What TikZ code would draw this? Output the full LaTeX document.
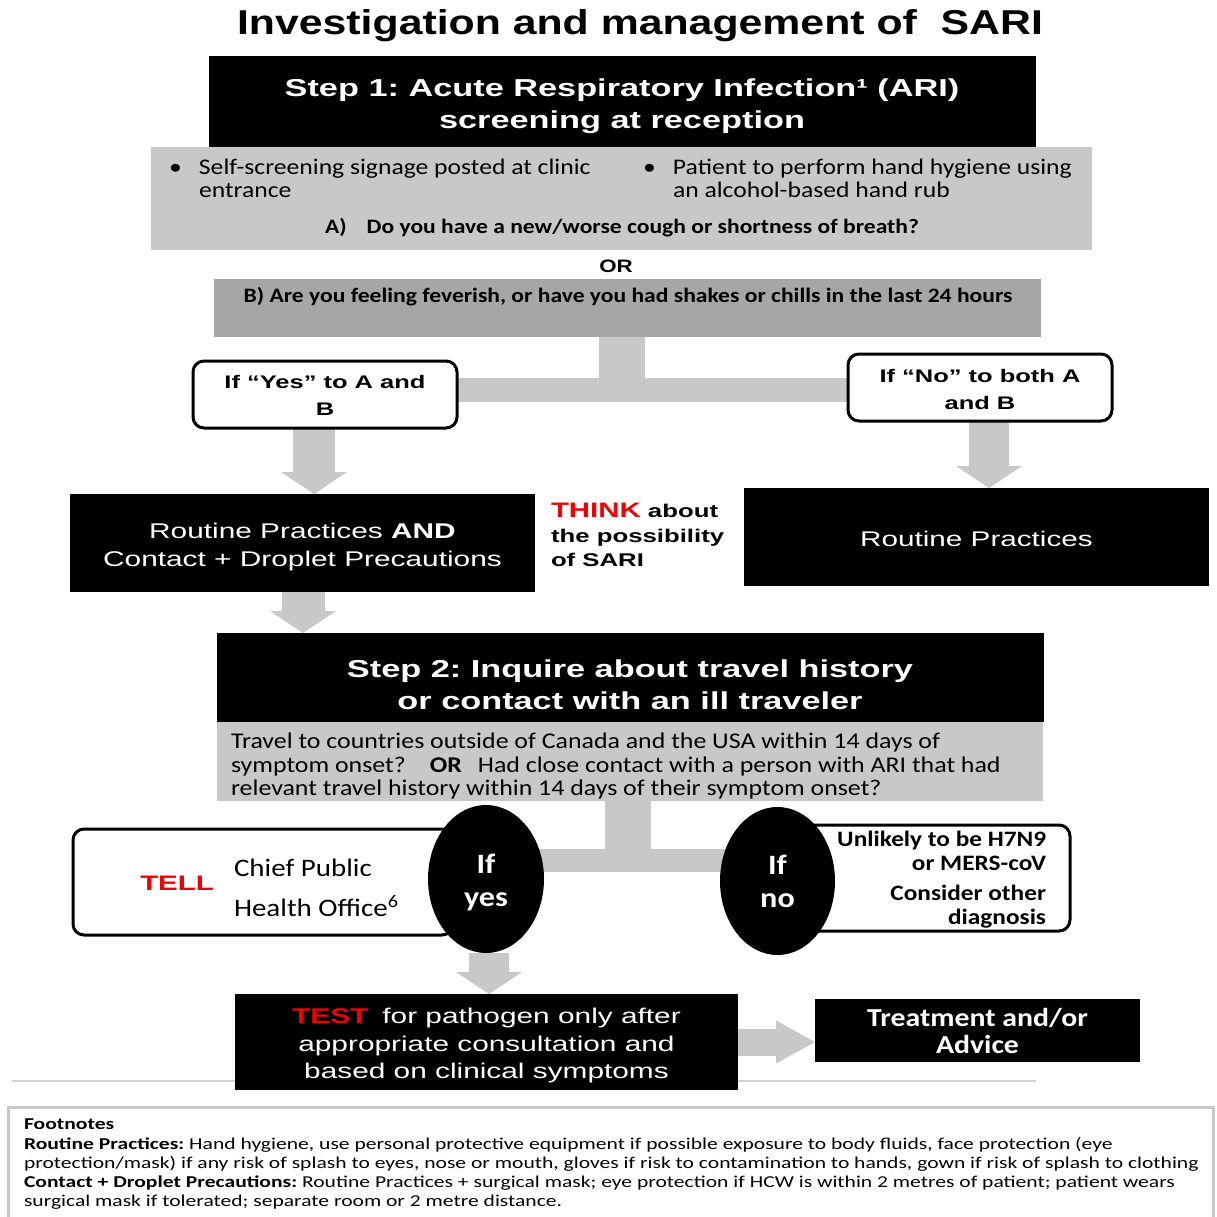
\documentclass[tikz,border=0pt]{standalone}
\usepackage{fontspec}
\setmainfont{Liberation Sans}
\newfontfamily\ar{Liberation Sans}[FakeStretch=1.4]
\newfontfamily\art{Liberation Sans}[FakeStretch=1.24]
\newfontfamily\cb{Carlito}[FakeStretch=1.15]
\newfontfamily\cbf{Carlito}[FakeStretch=1.3]
\usetikzlibrary{arrows.meta,shapes.geometric,backgrounds}
\definecolor{lg}{RGB}{200,200,200}
\definecolor{dg}{RGB}{166,166,166}
\definecolor{tred}{RGB}{240,0,0}
\newcommand{\fs}[2]{\fontsize{#1}{#2}\selectfont}
\frenchspacing
\begin{document}
\begin{tikzpicture}[x=1pt,y=-1pt,
  every node/.style={inner sep=0pt,outer sep=0pt},
  blackbox/.style={fill=black,text=white,align=center},
  greybox/.style={fill=lg},
  roundbox/.style={draw=black,line width=3pt,rounded corners=11pt,fill=white},
  oval/.style={ellipse,fill=black,text=white,align=center},
  bar/.style={draw=lg,line width=#1},
  bigarrow/.style={draw=lg,line width=#1,-{Triangle[width=66pt,length=22pt,line width=0pt]}},
]
\useasboundingbox (0,0) rectangle (1216,1217);

% title
\node[font=\art\bfseries\fs{34.5}{40}] (title) at (640,26) {Investigation and management of\ \ SARI};

% step 1
\node[blackbox,minimum width=827pt,minimum height=91pt] (step1) at (622.5,101.5) {};
\node[text=white,align=center,font=\ar\bfseries\fs{24.5}{32}] (step1t) at (622,106)
  {Step 1: Acute Respiratory Infection¹ (ARI)\\screening at reception};

\node[greybox,minimum width=941pt,minimum height=103pt] (grey1) at (621.5,198.5) {};
\node[anchor=west,align=left,font=\cb\fs{22.3}{23}] (bul1) at (199,178)
  {\llap{•\hspace{17pt}}Self-screening signage posted at clinic\\entrance};
\node[anchor=west,align=left,font=\cb\fs{22.3}{23}] (bul2) at (673,178)
  {\llap{•\hspace{17pt}}Patient to perform hand hygiene using\\an alcohol-based hand rub};
\node[font=\cb\bfseries\fs{20.5}{24}] (qa) at (622,228)
  {A)\hspace{20pt}Do you have a new/worse cough or shortness of breath?};

\node[font=\art\bfseries\fs{18}{22}] (or1) at (616,266) {OR};

\node[fill=dg,minimum width=827pt,minimum height=58pt] (grey2) at (627.5,308) {};
\node[font=\cb\bfseries\fs{20.5}{24}] (qb) at (628,297)
  {B) Are you feeling feverish, or have you had shakes or chills in the last 24 hours};

% yes / no boxes
\node[roundbox,minimum width=264pt,minimum height=67pt] (yesbox) at (325,394.5) {};
\node[align=center,font=\ar\bfseries\fs{18.2}{27}] (yest) at (325,395) {If “Yes” to A and\\B};
\node[roundbox,minimum width=264pt,minimum height=67pt] (nobox) at (980,387.5) {};
\node[align=center,font=\ar\bfseries\fs{18.2}{27}] (not) at (980,389) {If “No” to both A\\and B};

% routine boxes
\node[blackbox,minimum width=465pt,minimum height=98pt] (lbox) at (302.5,543) {};
\node[text=white,align=center,font=\ar\fs{21.3}{28}] (lboxt) at (302.5,547)
  {Routine Practices \textbf{AND}\\Contact + Droplet Precautions};
\node[blackbox,minimum width=465pt,minimum height=98pt] (rbox) at (976.5,537) {};
\node[text=white,font=\ar\fs{21.2}{28}] (rboxt) at (976.5,539) {Routine Practices};
\node[anchor=west,align=left,font=\ar\bfseries\fs{18.4}{24.5}] (think) at (551,535)
  {{\color{tred}\fs{21}{24.5}THINK} about\\the possibility\\of SARI};

% step 2
\node[blackbox,minimum width=827pt,minimum height=89pt] (step2) at (630.5,677.5) {};
\node[text=white,align=center,font=\ar\bfseries\fs{24.5}{32}] (step2t) at (630,685)
  {Step 2: Inquire about travel history\\or contact with an ill traveler};
\node[greybox,minimum width=826pt,minimum height=79pt] (grey3) at (630,761.5) {};
\node[anchor=west,align=left,font=\cb\fs{22.5}{23.5}] (travel) at (231,766)
  {Travel to countries outside of Canada and the USA within 14 days of\\
   symptom onset?\hspace{24pt}\textbf{OR}\hspace{16pt}Had close contact with a person with ARI that had\\
   relevant travel history within 14 days of their symptom onset?};

% tell / unlikely boxes and ovals
\node[roundbox,minimum width=380pt,minimum height=106pt] (tellbox) at (263,882) {};
\node[text=tred,font=\ar\bfseries\fs{21}{24}] (tell) at (177,883) {TELL};
\node[anchor=west,align=left,font=\cb\fs{25.2}{40}] (cpho) at (234,888)
  {Chief Public\\Health Office\textsuperscript{6}};
\node[roundbox,minimum width=280pt,minimum height=106pt] (unlbox) at (930,878) {};
\node[anchor=east,align=right,font=\cb\bfseries\fs{22}{24}] (unl) at (1046,880)
  {Unlikely to be H7N9\\or MERS-coV\\[6pt]Consider other\\diagnosis};
\node[oval,minimum width=116pt,minimum height=148pt] (yesov) at (486,879) {};
\node[text=white,align=center,font=\cb\bfseries\fs{28}{33}] (yesovt) at (486,882) {If\\yes};
\node[oval,minimum width=115pt,minimum height=148pt] (noov) at (777.5,881) {};
\node[text=white,align=center,font=\cb\bfseries\fs{28}{33}] (noovt) at (777.5,881) {If\\no};

% test / treatment
\node[blackbox,minimum width=503pt,minimum height=96pt] (test) at (486.5,1042) {};
\node[text=white,align=center,font=\ar\fs{21.3}{27.5}] (testt) at (486.5,1045.5)
  {{\color{tred}\bfseries TEST}\hspace{14pt}for pathogen only after\\appropriate consultation and\\based on clinical symptoms};
\node[blackbox,minimum width=325pt,minimum height=63pt,font=\cb\bfseries\fs{25.9}{27}] (treat) at (977.5,1030.5)
  {Treatment and/or\\Advice};

% footnotes
\draw[lg,line width=3pt] (8,1107) rectangle (1213,1230);
\node[anchor=north west,align=left,font=\cbf\fs{16.6}{19.3}] (foot) at (24,1119)
  {\textbf{Footnotes}\\
   \textbf{Routine Practices:} Hand hygiene, use personal protective equipment if possible exposure to body fluids, face protection (eye\\
   protection/mask) if any risk of splash to eyes, nose or mouth, gloves if risk to contamination to hands, gown if risk of splash to clothing\\
   \textbf{Contact + Droplet Precautions:} Routine Practices + surgical mask; eye protection if HCW is within 2 metres of patient; patient wears\\
   surgical mask if tolerated; separate room or 2 metre distance.};

% connectors
\coordinate (t1) at (622,390);
\coordinate (ax1) at (314,0);
\coordinate (ax2) at (989,0);
\coordinate (ax3) at (303,0);
\coordinate (t2) at (628,860.5);
\coordinate (ax5) at (489,0);
\begin{pgfonlayer}{background}
  \fill[white] (0,0) rectangle (1216,1217);
  \draw[lg!80,line width=2pt] (12,1081) -- (1036,1081);
  \draw[bar=46pt] (grey2.south -| t1) -- (t1);
  \draw[bar=24pt] (yesbox.east |- t1) -- (nobox.west |- t1);
  \draw[bigarrow=42pt] (yesbox.south -| ax1) -- (lbox.north -| ax1);
  \draw[bigarrow=40pt] (nobox.south -| ax2) -- (rbox.north -| ax2);
  \draw[bigarrow=43pt] (lbox.south -| ax3) -- (step2.north -| ax3);
  \draw[bar=46pt] (grey3.south -| t2) -- (t2);
  \draw[bar=23pt] (yesov.center |- t2) -- (noov.center |- t2);
  \draw[bigarrow=40pt] (yesov.south -| ax5) -- (test.north -| ax5);
  \draw[draw=lg,line width=27pt,-{Triangle[width=43pt,length=39pt,line width=0pt]}] (test.east) -- (treat.west |- test.east);
\end{pgfonlayer}
\end{tikzpicture}
\end{document}
